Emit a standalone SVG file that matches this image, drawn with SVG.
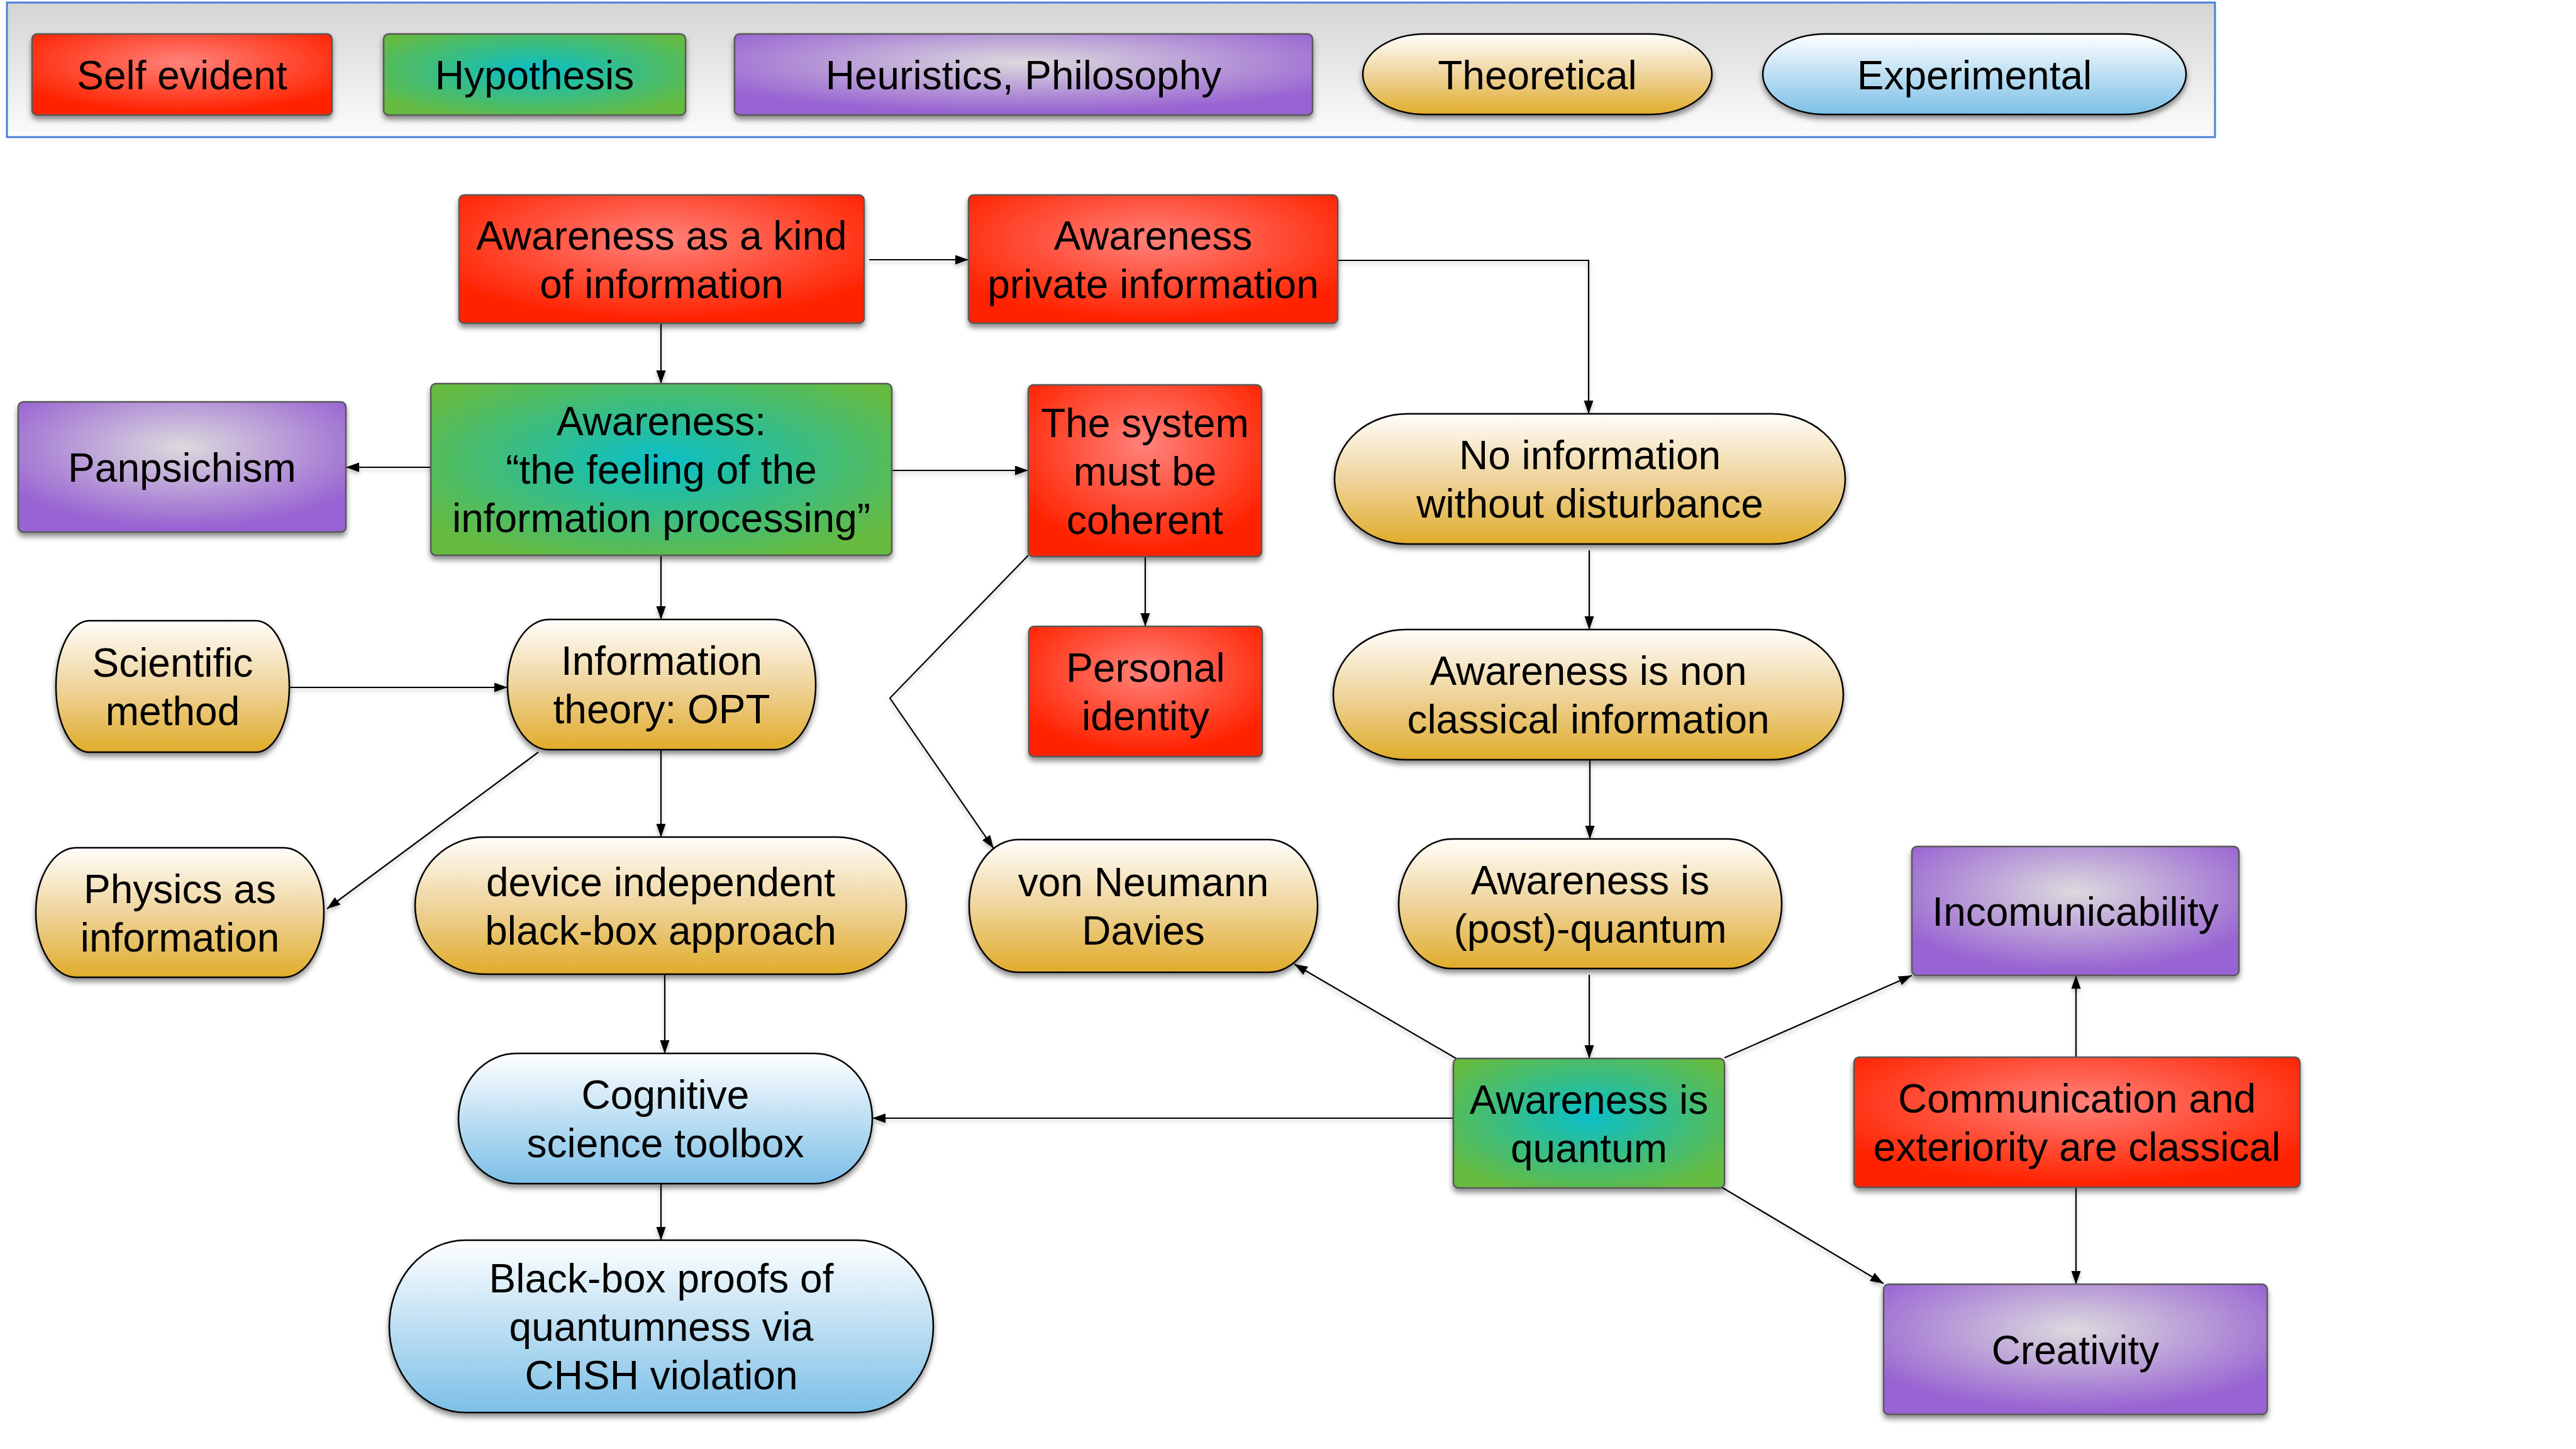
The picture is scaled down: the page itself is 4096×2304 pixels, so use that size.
<svg xmlns="http://www.w3.org/2000/svg" width="4096" height="2304" viewBox="0 0 4096 2304">
  <defs>
    <radialGradient id="gSelf" cx="0.5" cy="0.35" r="0.62">
      <stop offset="0" stop-color="#ff827b"/>
      <stop offset="1" stop-color="#ff2300"/>
    </radialGradient>
    <radialGradient id="gHyp" cx="0.5" cy="0.45" r="0.62">
      <stop offset="0" stop-color="#0bbfc8"/>
      <stop offset="1" stop-color="#66bb40"/>
    </radialGradient>
    <radialGradient id="gHeur" cx="0.5" cy="0.35" r="0.62">
      <stop offset="0" stop-color="#dcdadd"/>
      <stop offset="1" stop-color="#9863d2"/>
    </radialGradient>
    <linearGradient id="gTheo" x1="0" y1="0" x2="0" y2="1">
      <stop offset="0" stop-color="#fffefb"/>
      <stop offset="0.5" stop-color="#efd49c"/>
      <stop offset="1" stop-color="#e0ac2a"/>
    </linearGradient>
    <linearGradient id="gExp" x1="0" y1="0" x2="0" y2="1">
      <stop offset="0" stop-color="#ffffff"/>
      <stop offset="1" stop-color="#7cbfe7"/>
    </linearGradient>
    <linearGradient id="gLegend" x1="0" y1="0" x2="0" y2="1">
      <stop offset="0" stop-color="#d4d4d4"/>
      <stop offset="1" stop-color="#fcfcfc"/>
    </linearGradient>
    <filter id="shadow" x="-10%" y="-10%" width="120%" height="130%">
      <feDropShadow dx="0" dy="6" stdDeviation="4" flood-color="#000" flood-opacity="0.45"/>
    </filter>
    <filter id="lineShadow" x="-5%" y="-5%" width="110%" height="110%">
      <feDropShadow dx="0" dy="4" stdDeviation="3" flood-color="#000" flood-opacity="0.25"/>
    </filter>
    <marker id="arrow" markerUnits="userSpaceOnUse" markerWidth="22" markerHeight="16" refX="21" refY="7.5" orient="auto">
      <path d="M0,0 L21,7.5 L0,15 z" fill="#000"/>
    </marker>
  </defs>
  <style>
    text { font-family: "Liberation Sans", Arial, sans-serif; font-size: 64px; fill: #000; text-anchor: middle; }
    .box { stroke: #585858; stroke-width: 2.5; filter: url(#shadow); }
    .pill { stroke: #000; stroke-width: 2.5; filter: url(#shadow); }
    .self { fill: url(#gSelf); }
    .hyp { fill: url(#gHyp); }
    .heur { fill: url(#gHeur); }
    .theo { fill: url(#gTheo); }
    .exp { fill: url(#gExp); }
    .edge { fill: none; stroke: #000; stroke-width: 2.2; marker-end: url(#arrow); }
  </style>

  <rect width="4096" height="2304" fill="#fff"/>

  <!-- Legend -->
  <g id="legend">
    <rect x="11" y="4" width="3511" height="214" fill="url(#gLegend)" stroke="#4a80d6" stroke-width="3"/>
    <g id="legend-self">
      <rect class="box self" x="51" y="54" width="477" height="129" rx="8"/>
      <text x="289.5" y="141.5">Self evident</text>
    </g>
    <g id="legend-hypothesis">
      <rect class="box hyp" x="610" y="54" width="480" height="129" rx="8"/>
      <text x="850" y="141.5">Hypothesis</text>
    </g>
    <g id="legend-heuristics">
      <rect class="box heur" x="1168" y="54" width="919" height="129" rx="8"/>
      <text x="1627.5" y="141.5">Heuristics, Philosophy</text>
    </g>
    <g id="legend-theoretical">
      <rect class="pill theo" x="2167" y="54" width="555" height="128" rx="100" ry="64"/>
      <text x="2444.5" y="141.5">Theoretical</text>
    </g>
    <g id="legend-experimental">
      <rect class="pill exp" x="2803" y="54" width="673" height="128" rx="100" ry="64"/>
      <text x="3139.5" y="141.5">Experimental</text>
    </g>
  </g>

  <!-- Connectors -->
  <g id="connectors" filter="url(#lineShadow)">
    <path class="edge" d="M1382,413 H1540"/>
    <path class="edge" d="M2127,414 H2526 V658"/>
    <path class="edge" d="M1051,514 V610"/>
    <path class="edge" d="M685,743 H550"/>
    <path class="edge" d="M1418,748 H1635"/>
    <path class="edge" d="M1051,883 V985"/>
    <path class="edge" d="M1821,885 V996"/>
    <path class="edge" d="M1635,883 L1415,1110 L1580,1349"/>
    <path class="edge" d="M460,1093 H807"/>
    <path class="edge" d="M856,1196 L520,1445"/>
    <path class="edge" d="M1051,1192 V1331"/>
    <path class="edge" d="M1057,1550 V1675"/>
    <path class="edge" d="M1051,1882 V1972"/>
    <path class="edge" d="M2527,875 V1001"/>
    <path class="edge" d="M2528,1209 V1334"/>
    <path class="edge" d="M2527,1550 V1683"/>
    <path class="edge" d="M2317,1684 L2058,1533"/>
    <path class="edge" d="M2311,1778 H1387"/>
    <path class="edge" d="M2742,1682 L3040,1551"/>
    <path class="edge" d="M2738,1888 L2995,2041"/>
    <path class="edge" d="M3301,1681 V1551"/>
    <path class="edge" d="M3301,1888 V2042"/>
  </g>

  <!-- Nodes -->
  <g id="node-kind-of-information">
    <rect class="box self" x="730" y="310" width="644" height="204" rx="8"/>
    <text x="1052" y="397">Awareness as a kind</text>
    <text x="1052" y="474">of information</text>
  </g>
  <g id="node-private-information">
    <rect class="box self" x="1540" y="310" width="587" height="204" rx="8"/>
    <text x="1833.5" y="397">Awareness</text>
    <text x="1833.5" y="474">private information</text>
  </g>
  <g id="node-feeling">
    <rect class="box hyp" x="685" y="610" width="733" height="273" rx="8"/>
    <text x="1051.5" y="692">Awareness:</text>
    <text x="1051.5" y="769">“the feeling of the</text>
    <text x="1051.5" y="846">information processing”</text>
  </g>
  <g id="node-coherent">
    <rect class="box self" x="1635" y="612" width="371" height="273" rx="8"/>
    <text x="1820.5" y="695">The system</text>
    <text x="1820.5" y="772">must be</text>
    <text x="1820.5" y="849">coherent</text>
  </g>
  <g id="node-panpsichism">
    <rect class="box heur" x="29" y="639" width="521" height="207" rx="8"/>
    <text x="289.5" y="765.5">Panpsichism</text>
  </g>
  <g id="node-no-information">
    <rect class="pill theo" x="2122" y="658" width="812" height="207" rx="116" ry="103.5"/>
    <text x="2528" y="746">No information</text>
    <text x="2528" y="823">without disturbance</text>
  </g>
  <g id="node-non-classical">
    <rect class="pill theo" x="2120" y="1001" width="811" height="207" rx="116" ry="103.5"/>
    <text x="2525.5" y="1089">Awareness is non</text>
    <text x="2525.5" y="1166">classical information</text>
  </g>
  <g id="node-scientific-method">
    <rect class="pill theo" x="89" y="987" width="371" height="209" rx="53" ry="104.5"/>
    <text x="274.5" y="1076">Scientific</text>
    <text x="274.5" y="1153">method</text>
  </g>
  <g id="node-information-theory">
    <rect class="pill theo" x="807" y="985" width="490" height="207" rx="66" ry="103.5"/>
    <text x="1052" y="1073">Information</text>
    <text x="1052" y="1150">theory: OPT</text>
  </g>
  <g id="node-personal-identity">
    <rect class="box self" x="1636" y="996" width="371" height="207" rx="8"/>
    <text x="1821.5" y="1084">Personal</text>
    <text x="1821.5" y="1161">identity</text>
  </g>
  <g id="node-physics">
    <rect class="pill theo" x="57" y="1348" width="458" height="206" rx="64" ry="103"/>
    <text x="286" y="1435.5">Physics as</text>
    <text x="286" y="1512.5">information</text>
  </g>
  <g id="node-device-independent">
    <rect class="pill theo" x="660" y="1331" width="781" height="218" rx="110" ry="109"/>
    <text x="1050.5" y="1424.5">device independent</text>
    <text x="1050.5" y="1501.5">black-box approach</text>
  </g>
  <g id="node-von-neumann">
    <rect class="pill theo" x="1541" y="1335" width="554" height="211" rx="78" ry="105.5"/>
    <text x="1818" y="1425">von Neumann</text>
    <text x="1818" y="1502">Davies</text>
  </g>
  <g id="node-post-quantum">
    <rect class="pill theo" x="2224" y="1334" width="609" height="206" rx="85" ry="103"/>
    <text x="2528.5" y="1421.5">Awareness is</text>
    <text x="2528.5" y="1498.5">(post)-quantum</text>
  </g>
  <g id="node-incomunicability">
    <rect class="box heur" x="3040" y="1346" width="520" height="205" rx="8"/>
    <text x="3300" y="1471.5">Incomunicability</text>
  </g>
  <g id="node-quantum">
    <rect class="box hyp" x="2311" y="1683" width="431" height="206" rx="8"/>
    <text x="2526.5" y="1770.5">Awareness is</text>
    <text x="2526.5" y="1847.5">quantum</text>
  </g>
  <g id="node-communication">
    <rect class="box self" x="2948" y="1681" width="709" height="207" rx="8"/>
    <text x="3302.5" y="1769">Communication and</text>
    <text x="3302.5" y="1846">exteriority are classical</text>
  </g>
  <g id="node-creativity">
    <rect class="box heur" x="2995" y="2042" width="610" height="207" rx="8"/>
    <text x="3300" y="2168.5">Creativity</text>
  </g>
  <g id="node-cognitive-toolbox">
    <rect class="pill exp" x="729" y="1675" width="658" height="207" rx="92" ry="103.5"/>
    <text x="1058" y="1763">Cognitive</text>
    <text x="1058" y="1840">science toolbox</text>
  </g>
  <g id="node-chsh">
    <rect class="pill exp" x="619" y="1972" width="865" height="274" rx="121" ry="137"/>
    <text x="1051.5" y="2055">Black-box proofs of</text>
    <text x="1051.5" y="2132">quantumness via</text>
    <text x="1051.5" y="2209">CHSH violation</text>
  </g>
</svg>
